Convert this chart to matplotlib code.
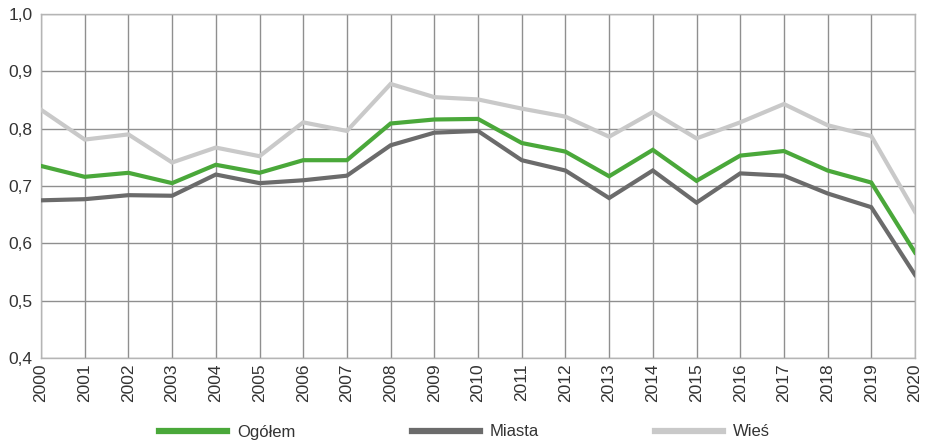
import matplotlib
matplotlib.use("Agg")
import matplotlib.pyplot as plt
from matplotlib.ticker import FuncFormatter

plt.rcParams['font.family'] = ['Liberation Sans', 'DejaVu Sans']

years = list(range(2000, 2021))
ogolem = [0.735, 0.716, 0.723, 0.705, 0.737, 0.723, 0.745, 0.745, 0.809, 0.816, 0.817,
          0.775, 0.760, 0.717, 0.763, 0.709, 0.753, 0.761, 0.727, 0.706, 0.584]
miasta = [0.675, 0.677, 0.684, 0.683, 0.720, 0.705, 0.710, 0.718, 0.771, 0.793, 0.796,
          0.745, 0.727, 0.679, 0.727, 0.671, 0.722, 0.718, 0.687, 0.663, 0.545]
wies = [0.833, 0.781, 0.790, 0.741, 0.767, 0.752, 0.811, 0.796, 0.878, 0.855, 0.851,
        0.835, 0.821, 0.786, 0.829, 0.783, 0.811, 0.843, 0.806, 0.787, 0.655]
labels = ["Ogółem", "Miasta", "Wieś"]
colors = ["#4aa83a", "#6b6b6b", "#c9c9c9"]

fig = plt.figure(figsize=(9.26, 4.46), dpi=100)
ax = fig.add_axes([41 / 926, 1 - 358 / 446, (915 - 41) / 926, (358 - 14) / 446])

series = [ogolem, miasta, wies]
for vals, lab, col in zip(series[::-1], labels[::-1], colors[::-1]):
    ax.plot(years, vals, color=col, lw=3.0, label=lab, zorder=3,
            solid_joinstyle='miter')

ax.set_xlim(2000, 2020)
ax.set_ylim(0.4, 1.0)
ax.set_xticks(years)
ax.set_xticklabels([str(y) for y in years], rotation=90, fontsize=12.5)
ax.set_yticks([0.4, 0.5, 0.6, 0.7, 0.8, 0.9, 1.0])
ax.yaxis.set_major_formatter(FuncFormatter(lambda v, p: f"{v:.1f}".replace('.', ',')))
ax.tick_params(axis='y', labelsize=12.5, length=0, pad=6, colors='#333333')
ax.tick_params(axis='x', length=0, pad=4, colors='#333333')
ax.grid(True, color='#8f8f8f', lw=1.0, zorder=1)
for s in ax.spines.values():
    s.set_color('#b5b5b5')
    s.set_linewidth(1.0)

handles = [plt.Line2D([], [], color=c, lw=4.5) for c in colors]
fig.legend(handles, labels, loc='center', bbox_to_anchor=(464.5 / 926, 1 - 432 / 446),
           ncol=3, frameon=False, fontsize=12, handlelength=4.08,
           columnspacing=6.95, handletextpad=0.6, labelcolor='#333333')

fig.savefig("out.png", dpi=100, facecolor='white')
